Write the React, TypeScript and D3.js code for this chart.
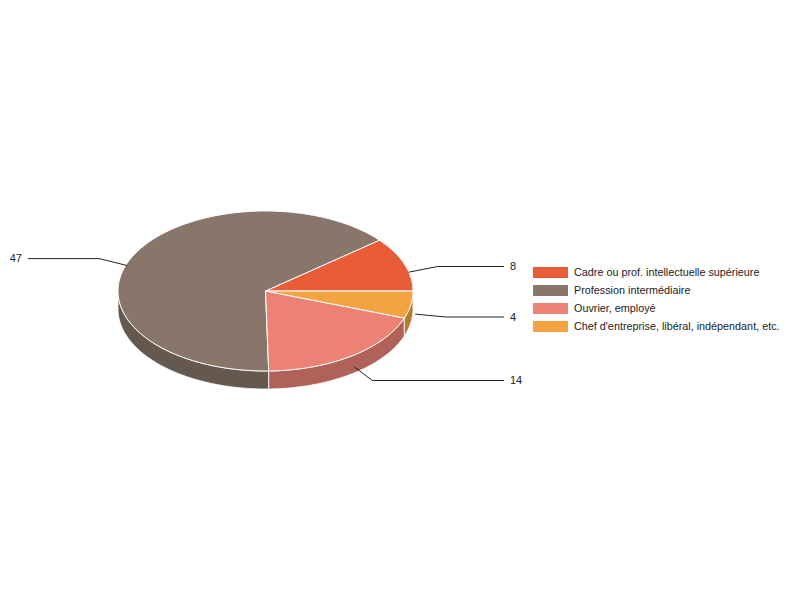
import React, { useEffect, useRef } from 'react';
import * as d3 from 'd3';

const categories = [
  'Cadre ou prof. intellectuelle supérieure',
  'Profession intermédiaire',
  'Ouvrier, employé',
  "Chef d'entreprise, libéral, indépendant, etc.",
];
const values = [8, 47, 14, 4];
const topColors = ['#e85d38', '#88766a', '#ec8276', '#f4a342'];
const sideColors = ['#ad4529', '#65584e', '#b06259', '#b77a30'];

const W = 800;
const H = 600;

export default function App() {
  const svgRef = useRef<SVGSVGElement>(null);

  useEffect(() => {
    if (!svgRef.current) return;
    const svg = d3.select(svgRef.current);
    svg.selectAll('*').remove();

    const cx = 265.5;
    const cy = 291;
    const rx = 147.5;
    const ry = 80;
    const depth = 18;
    const font = 'Arial, "Liberation Sans", sans-serif';

    const total = d3.sum(values);
    // angle scale: value -> radians, counterclockwise from 3 o'clock
    const angle = d3.scaleLinear().domain([0, total]).range([0, 2 * Math.PI]);
    const cum = d3.cumsum(values);
    const slices = values.map((v, i) => ({
      i,
      v,
      a0: angle(cum[i] - v),
      a1: angle(cum[i]),
    }));

    const px = (a: number, k = 1) => cx + rx * k * Math.cos(a);
    const py = (a: number, k = 1, off = 0) => cy - ry * k * Math.sin(a) + off;

    const arcPts = (a0: number, a1: number, off: number) => {
      const n = Math.max(2, Math.ceil(Math.abs(a1 - a0) / 0.02));
      const pts: [number, number][] = [];
      for (let j = 0; j <= n; j++) {
        const a = a0 + ((a1 - a0) * j) / n;
        pts.push([px(a), py(a, 1, off)]);
      }
      return pts;
    };

    const line = d3.line();
    const g = svg.append('g');

    // side walls (front half: angles between PI and 2PI)
    slices.forEach((s) => {
      const lo = Math.max(s.a0, Math.PI);
      const hi = Math.min(s.a1, 2 * Math.PI);
      if (hi <= lo) return;
      const top = arcPts(lo, hi, 0);
      const bottom = arcPts(hi, lo, depth);
      g.append('path')
        .attr('d', line([...top, ...bottom]) + 'Z')
        .attr('fill', sideColors[s.i])
        .attr('stroke', '#fff')
        .attr('stroke-width', 1)
        .attr('stroke-opacity', 0.8);
    });

    // top faces
    slices.forEach((s) => {
      const pts: [number, number][] = [[cx, cy], ...arcPts(s.a0, s.a1, 0)];
      g.append('path')
        .attr('d', line(pts) + 'Z')
        .attr('fill', topColors[s.i])
        .attr('stroke', '#fff')
        .attr('stroke-width', 1)
        .attr('stroke-linejoin', 'round');
    });

    // labels with leader lines
    const lbl = svg.append('g');
    slices.forEach((s) => {
      const mid = (s.a0 + s.a1) / 2;
      const right = Math.cos(mid) >= 0;
      const ax = px(mid, 1.03);
      const ay = py(mid, 1.03, depth / 2);
      const ex = px(mid, 1.24);
      const ey = py(mid, 1.24, depth / 2);
      const tx = right ? 504 : 28;
      lbl.append('path')
        .attr('d', line([[ax, ay], [ex, ey], [tx, ey]]))
        .attr('fill', 'none')
        .attr('stroke', '#222')
        .attr('stroke-width', 1);
      lbl.append('text')
        .attr('x', right ? tx + 6 : tx - 6)
        .attr('y', ey)
        .attr('dy', '0.35em')
        .attr('text-anchor', right ? 'start' : 'end')
        .attr('font-family', font)
        .attr('font-size', 11)
        .attr('fill', '#222')
        .text(String(s.v));
    });

    // legend
    const leg = svg.append('g').attr('transform', 'translate(533,267)');
    categories.forEach((c, i) => {
      const row = leg.append('g').attr('transform', `translate(0,${i * 18})`);
      row.append('rect')
        .attr('width', 35)
        .attr('height', 11)
        .attr('fill', topColors[i]);
      row.append('text')
        .attr('x', 41)
        .attr('y', 5.5)
        .attr('dy', '0.35em')
        .attr('font-family', font)
        .attr('font-size', 10.8)
        .attr('fill', '#222')
        .text(c);
    });
  }, []);

  return (
    <svg
      ref={svgRef}
      width={W}
      height={H}
      style={{ position: 'absolute', left: 0, top: 0, background: '#fff' }}
    />
  );
}
